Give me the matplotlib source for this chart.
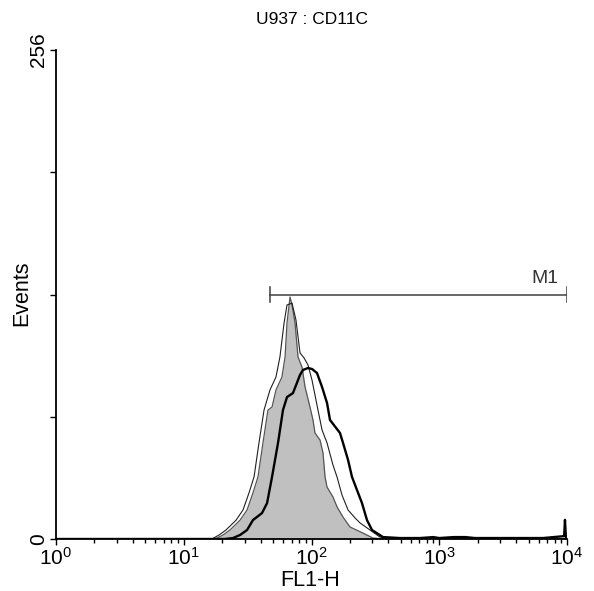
import matplotlib
matplotlib.use("Agg")
import matplotlib.pyplot as plt

plt.rcParams['font.family'] = ['Liberation Sans', 'DejaVu Sans']
plt.rcParams['mathtext.fontset'] = 'custom'
plt.rcParams['mathtext.rm'] = 'Liberation Sans'

# control (filled gray)
ctrl_x = [1, 17.6, 20.3, 23.0, 27.6, 31.3, 34.8, 38.1, 41.7, 45.6, 49.1, 52.7, 58.7, 62.1,
          64.3, 67.9, 70.4, 74.3, 78.4, 84.3, 89.0, 97.3, 102.7, 106.5, 116.6, 123.1,
          127.6, 132.3, 147.3, 158.4, 176.5, 200.1, 252.7, 303, 376, 10000]
ctrl_y = [0, 0, 2.1, 4.7, 9.9, 15.2, 24.1, 32.5, 50.3, 67.5, 69.1, 78.0, 84.8, 95.3,
          113.1, 126.7, 122.5, 113.1, 95.3, 90.0, 79.6, 69.1, 62.3, 55.5, 51.8, 45.0,
          32.5, 27.2, 22.0, 16.8, 11.5, 6.3, 3.1, 0.5, 0, 0]

# thin outline sample
thin_x = [1, 16.6, 18.9, 21.4, 25.7, 29.1, 32.4, 35.5, 38.8, 42.5, 47.3, 52.7, 56.6, 61.0,
          64.3, 70.4, 75.6, 81.3, 87.4, 93.9, 100.9, 112.4, 120.9, 132.3, 147.3, 158.4,
          173.3, 193.2, 219.3, 239.9, 287.2, 343.7, 411, 10000]
thin_y = [0, 0, 2.1, 4.7, 9.9, 15.2, 24.1, 32.5, 50.3, 67.5, 78.0, 84.8, 95.3, 113.1,
          122.5, 123.5, 114.6, 97.4, 94.8, 91.1, 83.2, 67.5, 57.1, 50.3, 38.7, 32.5,
          23.0, 15.2, 11.0, 8.4, 4.7, 1.0, 0, 0]

# thick black sample
cd11c_x = [1, 21.0, 24.3, 27.6, 31.3, 34.8, 41.0, 44.9, 49.1, 54.7, 59.8, 64.3, 71.6, 81.3,
           85.8, 93.9, 100.9, 110.4, 120.9, 132.3, 139.6, 167.1, 176.5, 193.2, 207.5,
           248.4, 271.9, 297.6, 363, 493, 707, 900, 1000, 1300, 1600, 1900, 6500,
           9500, 9640, 9800, 10000]
cd11c_y = [0, 0, 0.5, 2.1, 4.7, 9.9, 13.6, 18.8, 32.5, 50.3, 67.5, 74.3, 76.4, 85.9,
           88.5, 89.5, 89.0, 86.9, 79.6, 71.2, 62.3, 55.5, 50.3, 41.4, 32.5,
           18.8, 9.9, 4.7, 1.0, 0.5, 0.5, 1.0, 0.5, 1.0, 1.0, 0.5, 0.5,
           1.5, 10.0, 1.0, 0]

marker_lo, marker_hi, marker_y = 47.3, 10000, 128
y_ticks = [0, 64, 128, 192, 256]
y_labels = ['0', '', '', '', '256']
x_ticks = [1, 10, 100, 1000, 10000]

fig = plt.figure(figsize=(5.94, 5.91), dpi=100)
ax = fig.add_axes([56 / 594, 52 / 591, 511 / 594, 489 / 591])

ax.fill_between(ctrl_x, ctrl_y, 0, color='#c0c0c0', lw=0)
ax.plot(ctrl_x, ctrl_y, color='#555555', lw=0.9)
ax.plot(thin_x, thin_y, color='#202020', lw=0.8)
ax.plot(cd11c_x, cd11c_y, color='black', lw=1.7)

# M1 gate
ax.plot([marker_lo, marker_hi], [marker_y, marker_y], color='#404040', lw=1.1)
for xv in (marker_lo, marker_hi):
    ax.plot([xv, xv], [marker_y - 4, marker_y + 4], color='#404040', lw=1.1)
ax.text(8600, marker_y + 4, 'M1', ha='right', va='bottom', fontsize=14, color='#333333')

ax.set_xscale('log')
ax.set_xlim(1, 10000)
ax.set_ylim(0, 256)
ax.set_xticks(x_ticks)
ax.set_xticklabels([r'$\mathregular{10^{%d}}$' % i for i in range(5)], fontsize=15)
ax.set_yticks(y_ticks)
ax.set_yticklabels(y_labels, fontsize=15, rotation=90, va='center')
ax.tick_params(axis='both', which='major', length=4, width=1, pad=2)
ax.tick_params(axis='x', which='minor', length=3, width=1)
for s in ('top', 'right'):
    ax.spines[s].set_visible(False)
for s in ('left', 'bottom'):
    ax.spines[s].set_linewidth(1.3)

fig.text(312 / 594, 1 - 20 / 591, 'U937 : CD11C', ha='center', va='center', fontsize=12.5)
fig.text(22 / 594, 1 - 293 / 591, 'Events', ha='center', va='center', rotation=90, fontsize=15.5)
fig.text(310 / 594, 1 - 581 / 591, 'FL1-H', ha='center', va='center', fontsize=15.5)

fig.savefig('out.png', dpi=100)
